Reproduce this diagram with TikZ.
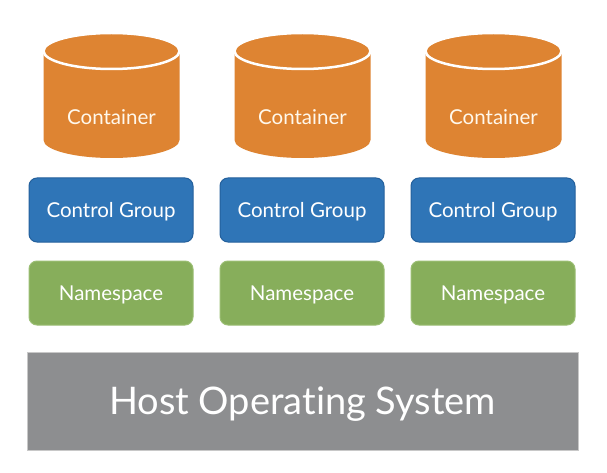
\documentclass[tikz,border=0pt]{standalone}
\usepackage{fontspec}
\setmainfont{Lato}[Ligatures=NoCommon]
\definecolor{cont}{HTML}{DE8432}
\definecolor{cgfill}{HTML}{2F75B7}
\definecolor{cgedge}{HTML}{24609C}
\definecolor{nsfill}{HTML}{87AE5B}
\definecolor{nsedge}{HTML}{9BBE74}
\definecolor{hostfill}{HTML}{8D8E90}
\definecolor{hostedge}{HTML}{C8C8C8}
\definecolor{txt}{HTML}{FFF8EC}
\begin{document}
\begin{tikzpicture}[x=1pt,y=-1pt,
  cgbox/.style={draw=cgedge,fill=cgfill,line width=1pt,rounded corners=8pt,minimum width=164pt,minimum height=64pt,text=white,font=\fontsize{20.5}{24}\selectfont,inner sep=0pt,text height=15pt,text depth=0pt},
  nsbox/.style={draw=nsedge,fill=nsfill,line width=1pt,rounded corners=8pt,minimum width=164pt,minimum height=64pt,text=white,font=\fontsize{20.5}{24}\selectfont,inner sep=0pt,text height=15pt,text depth=0pt},
  hostbox/.style={draw=hostedge,fill=hostfill,line width=1pt,minimum width=551pt,minimum height=98pt,text=white,font=\fontsize{38}{44}\selectfont,inner sep=0pt,text height=27.5pt,text depth=0pt},
  ctext/.style={text=txt,font=\fontsize{20.5}{24}\selectfont,inner sep=0pt}]
\useasboundingbox (0,0) rectangle (607,473);
\fill[white] (0,0) rectangle (607,473);
\foreach \i/\cx/\bx in {1/111.5/111, 2/302.5/302, 3/493.5/493}{
  % cylinder
  \fill[cont] (\cx-68,51) -- (\cx-68,140) arc[start angle=180,end angle=0,x radius=68,y radius=18] -- (\cx+68,51) -- cycle;
  \draw[white,line width=2.5pt,fill=cont] (\cx,51) ellipse[x radius=68,y radius=18];
  \node[ctext] (c\i) at (\cx,117) {Container};
  \node[cgbox] (g\i) at (\bx,210) {Control Group};
  \node[nsbox] (n\i) at (\bx,293) {Namespace};
}
\node[hostbox] (host) at (302.5,401) {Host Operating System};
\end{tikzpicture}
\end{document}
